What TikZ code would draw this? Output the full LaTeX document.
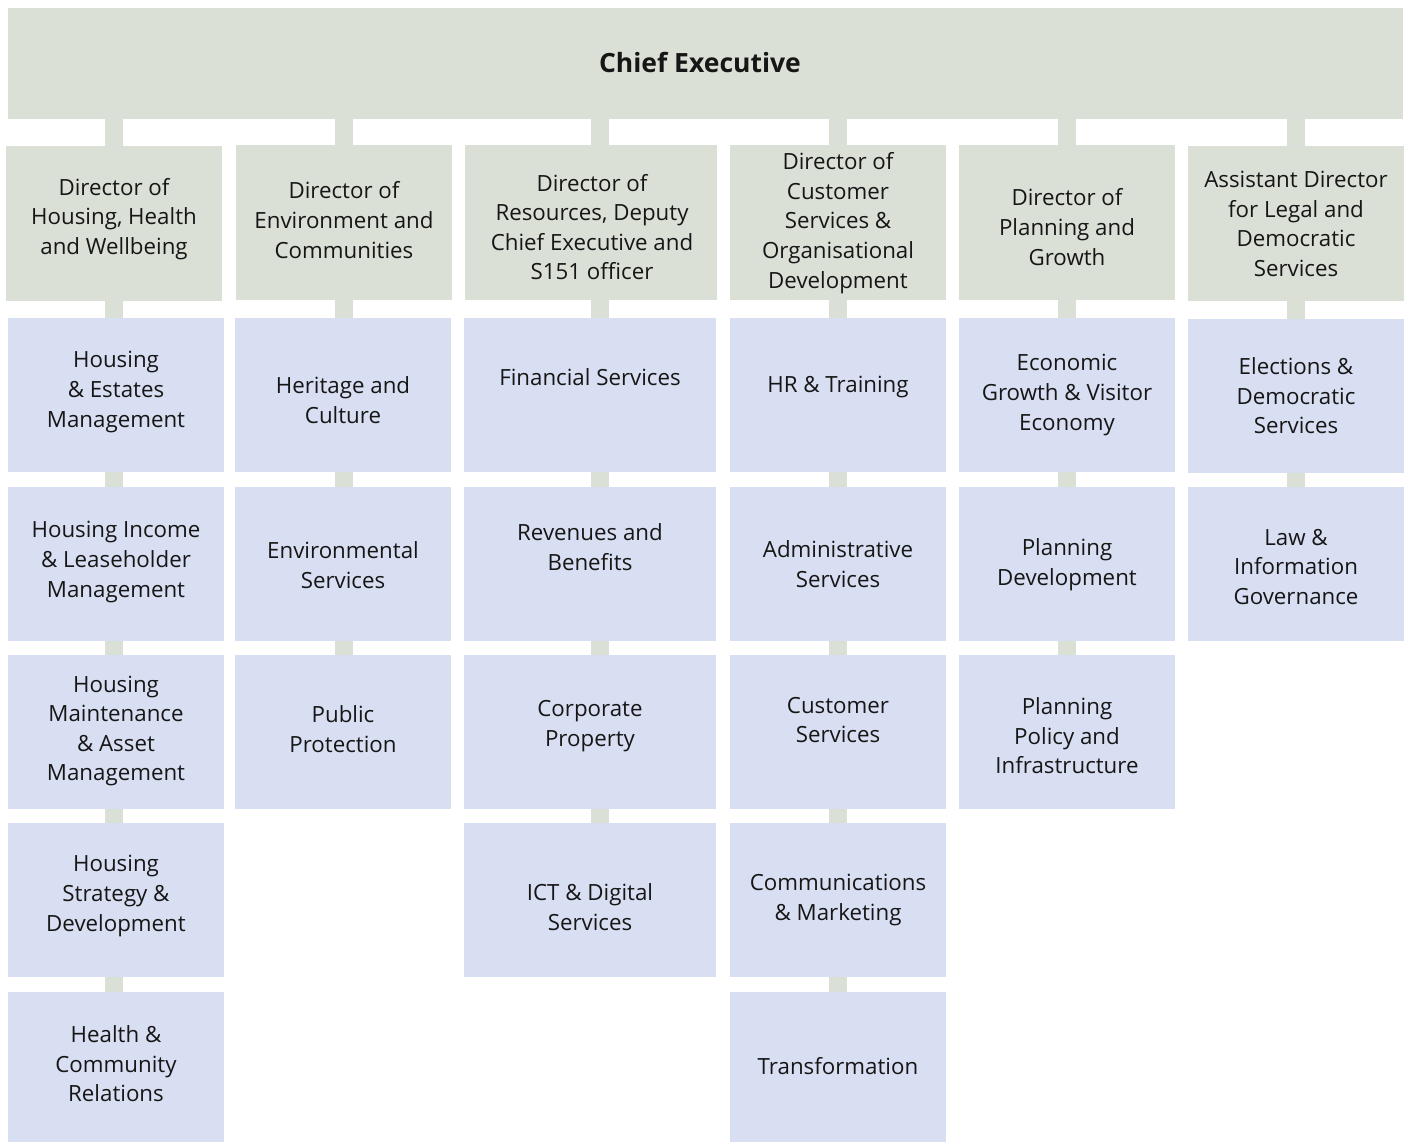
\documentclass[tikz,border=0pt]{standalone}
\usepackage{fontspec}
\setmainfont{Open Sans}
\usetikzlibrary{backgrounds}
\definecolor{dirgreen}{RGB}{218,224,214}
\definecolor{subblue}{RGB}{217,223,242}
\definecolor{ink}{RGB}{22,22,22}
\begin{document}
\begin{tikzpicture}[x=1pt,y=-1pt,
  boxbase/.style={rectangle, inner sep=0pt, anchor=north west},
  dirbox/.style={boxbase, fill=dirgreen, minimum height=155pt},
  subbox/.style={boxbase, fill=subblue, minimum height=154pt},
  narrow/.style={minimum width=216pt},
  wide/.style={minimum width=252pt},
  lbl/.style={align=center, inner sep=0pt, text=ink, font=\fontsize{22.3}{29.6}\selectfont},
  stem/.style={draw=dirgreen, line width=18pt},
]
\useasboundingbox (0,0) rectangle (1410,1142);

% Chief executive
\node[boxbase, fill=dirgreen, minimum width=1395pt, minimum height=111pt] (ceo) at (8,8) {};
\node[lbl, font=\fontsize{26.5}{30}\selectfont\bfseries] (ceot) at (700,62) {Chief Executive};

% Directors
\node[dirbox, narrow] (d1) at (6,146) {};
\node[dirbox, narrow] (d2) at (236,145) {};
\node[dirbox, wide]   (d3) at (465,145) {};
\node[dirbox, narrow] (d4) at (730,145) {};
\node[dirbox, narrow] (d5) at (959,145) {};
\node[dirbox, narrow] (d6) at (1188,146) {};

\node[lbl] (d1t) at (114,219) {Director of\\Housing, Health\\and Wellbeing};
\node[lbl] (d2t) at (344,220) {Director of\\Environment and\\Communities};
\node[lbl] (d3t) at (592,227) {Director of\\Resources, Deputy\\Chief Executive and\\S151 officer};
\node[lbl] (d4t) at (838,223) {Director of\\Customer\\Services \&\\Organisational\\Development};
\node[lbl] (d5t) at (1067,227) {Director of\\Planning and\\Growth};
\node[lbl] (d6t) at (1296,224) {Assistant Director\\for Legal and\\Democratic\\Services};

% Column 1
\node[subbox, narrow] (s11) at (8,318) {};
\node[subbox, narrow] (s12) at (8,487) {};
\node[subbox, narrow] (s13) at (8,655) {};
\node[subbox, narrow] (s14) at (8,823) {};
\node[subbox, narrow, minimum height=150pt] (s15) at (8,992) {};
\node[lbl] (s11t) at (116,392) {Housing\\\& Estates\\Management};
\node[lbl] (s12t) at (116,562) {Housing Income\\\& Leaseholder\\Management};
\node[lbl] (s13t) at (116,731) {Housing\\Maintenance\\\& Asset\\Management};
\node[lbl] (s14t) at (116,896) {Housing\\Strategy \&\\Development};
\node[lbl] (s15t) at (116,1064) {Health \&\\Community\\Relations};

% Column 2
\node[subbox, narrow] (s21) at (235,318) {};
\node[subbox, narrow] (s22) at (235,487) {};
\node[subbox, narrow] (s23) at (235,655) {};
\node[lbl] (s21t) at (343,400) {Heritage and\\Culture};
\node[lbl] (s22t) at (343,565) {Environmental\\Services};
\node[lbl] (s23t) at (343,729) {Public\\Protection};

% Column 3
\node[subbox, wide] (s31) at (464,318) {};
\node[subbox, wide] (s32) at (464,487) {};
\node[subbox, wide] (s33) at (464,655) {};
\node[subbox, wide] (s34) at (464,823) {};
\node[lbl] (s31t) at (590,377) {Financial Services};
\node[lbl] (s32t) at (590,547) {Revenues and\\Benefits};
\node[lbl] (s33t) at (590,726) {Corporate\\Property};
\node[lbl] (s34t) at (590,907) {ICT \& Digital\\Services};

% Column 4
\node[subbox, narrow] (s41) at (730,318) {};
\node[subbox, narrow] (s42) at (730,487) {};
\node[subbox, narrow] (s43) at (730,655) {};
\node[subbox, narrow] (s44) at (730,823) {};
\node[subbox, narrow, minimum height=150pt] (s45) at (730,992) {};
\node[lbl] (s41t) at (838,387) {HR \& Training};
\node[lbl] (s42t) at (838,564) {Administrative\\Services};
\node[lbl] (s43t) at (838,720) {Customer\\Services};
\node[lbl] (s44t) at (838,900) {Communications\\\& Marketing};
\node[lbl] (s45t) at (838,1066) {Transformation};

% Column 5
\node[subbox, narrow] (s51) at (959,318) {};
\node[subbox, narrow] (s52) at (959,487) {};
\node[subbox, narrow] (s53) at (959,655) {};
\node[lbl] (s51t) at (1067,395) {Economic\\Growth \& Visitor\\Economy};
\node[lbl] (s52t) at (1067,565) {Planning\\Development};
\node[lbl] (s53t) at (1067,736) {Planning\\Policy and\\Infrastructure};

% Column 6
\node[subbox, narrow] (s61) at (1188,319) {};
\node[subbox, narrow] (s62) at (1188,487) {};
\node[lbl] (s61t) at (1296,396) {Elections \&\\Democratic\\Services};
\node[lbl] (s62t) at (1296,567) {Law \&\\Information\\Governance};

% Connector stems (behind the boxes)
\begin{scope}[on background layer]
  \draw[stem] (ceo.south -| d1.north) -- (d1.north |- s15.north);
  \draw[stem] (ceo.south -| d2.north) -- (d2.north |- s23.north);
  \draw[stem] (ceo.south -| d3.north) ++(9,0) coordinate (c3top) -- (c3top |- s34.north);
  \draw[stem] (ceo.south -| d4.north) -- (d4.north |- s45.north);
  \draw[stem] (ceo.south -| d5.north) -- (d5.north |- s53.north);
  \draw[stem] (ceo.south -| d6.north) -- (d6.north |- s62.north);
\end{scope}
\end{tikzpicture}
\end{document}
